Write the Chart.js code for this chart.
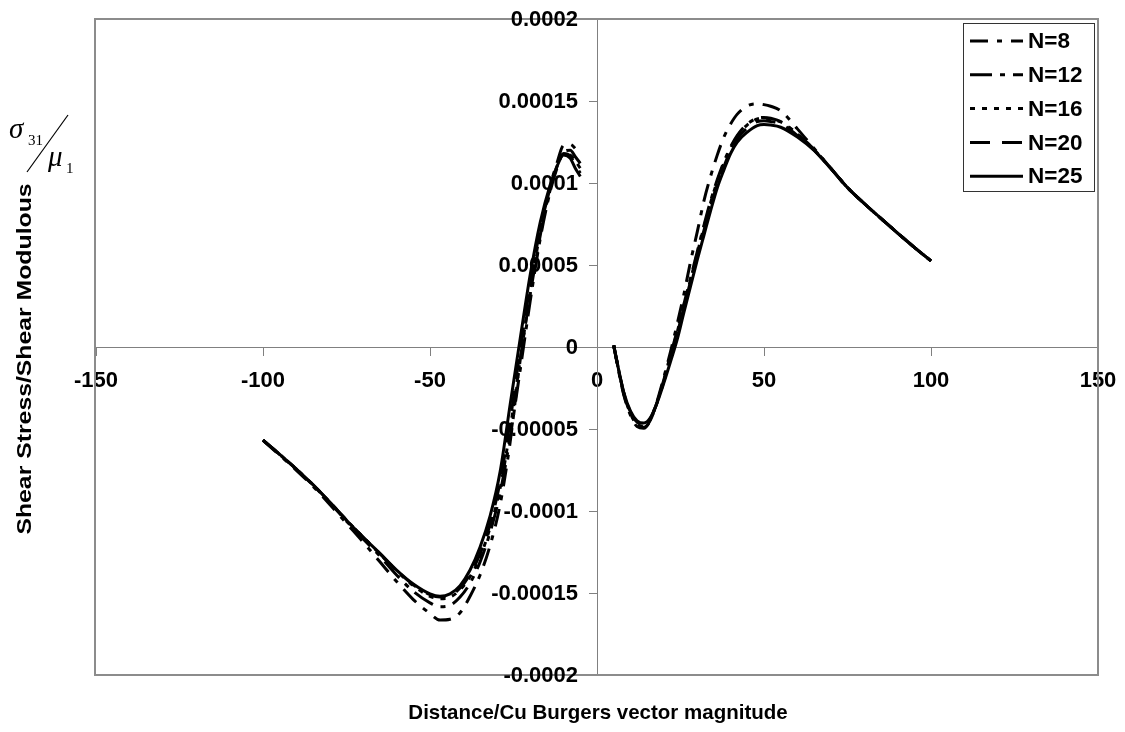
<!DOCTYPE html>
<html>
<head>
<meta charset="utf-8">
<script src="https://cdn.jsdelivr.net/npm/chart.js@4.4.1/dist/chart.umd.min.js"></script>
<style>
  html, body { margin: 0; padding: 0; background: #fff; }
  #wrap { width: 1125px; height: 732px; }
</style>
</head>
<body>
<div id="wrap"><canvas id="shearChart" width="1125" height="732"></canvas></div>
<script>
const seriesNames = ['N=8', 'N=12', 'N=16', 'N=20', 'N=25'];
const xTicks = [-150, -100, -50, 0, 50, 100, 150];
const yTicks = [-0.0002, -0.00015, -0.0001, -0.00005, 0, 0.00005, 0.0001, 0.00015, 0.0002];

// distance values, left and right of the dislocation
const xLeft = [-100, -95, -90, -85, -80, -75, -70, -65, -60, -55, -50, -47, -44, -41, -38, -35, -32, -29, -26, -23, -20, -17, -14, -12, -10, -8, -6.5, -5];
const xRight = [5, 6.5, 8, 10, 12, 14, 16, 18, 20, 22, 24, 26, 28, 30, 32, 34, 36, 38, 40, 42, 45, 48, 50, 52, 55, 60, 65, 70, 75, 80, 85, 90, 95, 100];

const n8Left = [-5.7e-5, -6.6e-5, -7.52e-5, -8.5e-5, -9.6e-5, -1.075e-4, -1.19e-4, -1.31e-4, -1.43e-4, -1.54e-4, -1.625e-4, -1.665e-4, -1.66e-4, -1.62e-4, -1.52e-4, -1.39e-4, -1.21e-4, -9.6e-5, -5.8e-5, -8e-6, 3.2e-5, 6.8e-5, 9.8e-5, 1.12e-4, 1.23e-4, 1.235e-4, 1.21e-4, 1.17e-4];
const n12Left = [-5.68e-5, -6.56e-5, -7.47e-5, -8.43e-5, -9.5e-5, -1.062e-4, -1.17e-4, -1.275e-4, -1.39e-4, -1.49e-4, -1.56e-4, -1.584e-4, -1.575e-4, -1.525e-4, -1.44e-4, -1.31e-4, -1.13e-4, -8.9e-5, -5.5e-5, -1.4e-5, 2.8e-5, 6.6e-5, 9.5e-5, 1.09e-4, 1.19e-4, 1.2e-4, 1.16e-4, 1.12e-4];
const n16Left = [-5.68e-5, -6.55e-5, -7.45e-5, -8.4e-5, -9.46e-5, -1.056e-4, -1.16e-4, -1.262e-4, -1.365e-4, -1.455e-4, -1.52e-4, -1.535e-4, -1.525e-4, -1.48e-4, -1.4e-4, -1.28e-4, -1.1e-4, -8.6e-5, -5e-5, -8e-6, 3.4e-5, 7e-5, 9.6e-5, 1.1e-4, 1.175e-4, 1.17e-4, 1.135e-4, 1.09e-4];
const n20Left = [-5.68e-5, -6.55e-5, -7.45e-5, -8.4e-5, -9.46e-5, -1.056e-4, -1.16e-4, -1.26e-4, -1.362e-4, -1.45e-4, -1.51e-4, -1.525e-4, -1.515e-4, -1.47e-4, -1.385e-4, -1.26e-4, -1.08e-4, -8.2e-5, -4.5e-5, -2e-6, 3.8e-5, 7.2e-5, 9.7e-5, 1.1e-4, 1.18e-4, 1.165e-4, 1.11e-4, 1.06e-4];
const n25Left = [-5.68e-5, -6.55e-5, -7.45e-5, -8.4e-5, -9.46e-5, -1.056e-4, -1.16e-4, -1.258e-4, -1.36e-4, -1.445e-4, -1.505e-4, -1.52e-4, -1.505e-4, -1.455e-4, -1.36e-4, -1.22e-4, -1.03e-4, -7.6e-5, -3.5e-5, 5e-6, 4.4e-5, 7.6e-5, 9.9e-5, 1.1e-4, 1.17e-4, 1.15e-4, 1.09e-4, 1.04e-4];

const n8Right = [1e-6, -1.5e-5, -2.9e-5, -4.15e-5, -4.85e-5, -4.95e-5, -4.45e-5, -3.3e-5, -1.85e-5, -3e-6, 1.4e-5, 3.2e-5, 5.2e-5, 7e-5, 8.9e-5, 1.04e-4, 1.17e-4, 1.28e-4, 1.36e-4, 1.42e-4, 1.47e-4, 1.482e-4, 1.478e-4, 1.468e-4, 1.44e-4, 1.33e-4, 1.21e-4, 1.09e-4, 9.72e-5, 8.75e-5, 7.84e-5, 6.95e-5, 6.08e-5, 5.25e-5];
const n12Right = [1e-6, -1.45e-5, -2.85e-5, -4.05e-5, -4.75e-5, -4.9e-5, -4.45e-5, -3.35e-5, -2e-5, -5e-6, 1e-5, 2.6e-5, 4.2e-5, 5.8e-5, 7.4e-5, 8.9e-5, 1.02e-4, 1.13e-4, 1.22e-4, 1.29e-4, 1.36e-4, 1.395e-4, 1.4e-4, 1.395e-4, 1.375e-4, 1.3e-4, 1.205e-4, 1.09e-4, 9.72e-5, 8.75e-5, 7.84e-5, 6.95e-5, 6.08e-5, 5.25e-5];
const n16Right = [1e-6, -1.42e-5, -2.8e-5, -4e-5, -4.7e-5, -4.82e-5, -4.4e-5, -3.35e-5, -2.05e-5, -5.5e-6, 9e-6, 2.5e-5, 4.1e-5, 5.7e-5, 7.3e-5, 8.8e-5, 1.01e-4, 1.12e-4, 1.21e-4, 1.285e-4, 1.355e-4, 1.39e-4, 1.395e-4, 1.39e-4, 1.372e-4, 1.297e-4, 1.203e-4, 1.089e-4, 9.72e-5, 8.75e-5, 7.84e-5, 6.95e-5, 6.08e-5, 5.25e-5];
const n20Right = [1e-6, -1.4e-5, -2.78e-5, -3.95e-5, -4.58e-5, -4.72e-5, -4.35e-5, -3.4e-5, -2.1e-5, -6e-6, 8e-6, 2.4e-5, 4e-5, 5.6e-5, 7.1e-5, 8.6e-5, 9.9e-5, 1.1e-4, 1.2e-4, 1.27e-4, 1.335e-4, 1.375e-4, 1.38e-4, 1.375e-4, 1.36e-4, 1.29e-4, 1.2e-4, 1.088e-4, 9.72e-5, 8.75e-5, 7.84e-5, 6.95e-5, 6.08e-5, 5.25e-5];
const n25Right = [1e-6, -1.4e-5, -2.75e-5, -3.9e-5, -4.5e-5, -4.64e-5, -4.3e-5, -3.4e-5, -2.2e-5, -9e-6, 4.5e-6, 2.1e-5, 3.7e-5, 5.3e-5, 6.8e-5, 8.3e-5, 9.7e-5, 1.08e-4, 1.18e-4, 1.25e-4, 1.31e-4, 1.35e-4, 1.356e-4, 1.353e-4, 1.34e-4, 1.28e-4, 1.198e-4, 1.088e-4, 9.72e-5, 8.75e-5, 7.84e-5, 6.95e-5, 6.08e-5, 5.25e-5];

const leftValues = [n8Left, n12Left, n16Left, n20Left, n25Left];
const rightValues = [n8Right, n12Right, n16Right, n20Right, n25Right];
const dashes = [[18, 9, 5, 9], [22, 8, 5, 8], [5, 7], [20, 12], []];

const fontFamily = "'Liberation Sans', Arial, sans-serif";

function buildPoints(left, right) {
    const pts = xLeft.map((x, i) => ({x: x, y: left[i]}));
    pts.push({x: 0, y: null});
    return pts.concat(xRight.map((x, i) => ({x: x, y: right[i]})));
}

function yLabel(v) {
    return String(Number(v.toFixed(5)));
}

// centred axes should not eat into the plot area
function noPadding(scale) {
    scale.paddingLeft = 0;
    scale.paddingRight = 0;
    scale.paddingTop = 0;
    scale.paddingBottom = 0;
}

const datasets = seriesNames.map((name, i) => ({
    label: name,
    data: buildPoints(leftValues[i], rightValues[i]),
    borderColor: '#000',
    borderWidth: 3,
    borderDash: dashes[i],
    pointRadius: 0,
    fill: false,
    spanGaps: false,
    cubicInterpolationMode: 'monotone'
}));

const decorPlugin = {
    id: 'decor',
    beforeDatasetsDraw(chart) {
        const {ctx, chartArea} = chart;
        ctx.save();
        ctx.strokeStyle = '#8c8c8c';
        ctx.lineWidth = 2;
        ctx.strokeRect(chartArea.left - 1, chartArea.top, chartArea.right - chartArea.left + 1, chartArea.bottom - chartArea.top);

        // y tick labels sit left of the centred axis
        const yScale = chart.scales.y;
        const xZero = chart.scales.x.getPixelForValue(0);
        ctx.fillStyle = '#000';
        ctx.font = `bold 22px ${fontFamily}`;
        ctx.textAlign = 'right';
        ctx.textBaseline = 'middle';
        yTicks.forEach(v => {
            ctx.fillText(yLabel(v), xZero - 19, yScale.getPixelForValue(v) + 1);
        });
        ctx.restore();
    },
    afterDraw(chart) {
        const {ctx} = chart;
        ctx.save();
        ctx.fillStyle = '#000';

        // axis titles
        ctx.font = `bold 20.5px ${fontFamily}`;
        ctx.textAlign = 'center';
        ctx.textBaseline = 'middle';
        ctx.fillText('Distance/Cu Burgers vector magnitude', 598, 713);
        ctx.save();
        ctx.translate(25, 359);
        ctx.rotate(-Math.PI / 2);
        ctx.scale(1.18, 1);
        ctx.font = `bold 21px ${fontFamily}`;
        ctx.fillText('Shear Stress/Shear Modulous', 0, 0);
        ctx.restore();

        // sigma31 / mu1
        ctx.textAlign = 'left';
        ctx.textBaseline = 'alphabetic';
        ctx.font = "italic 29px 'Liberation Serif', serif";
        ctx.fillText('σ', 9, 138);
        ctx.fillText('μ', 48, 166);
        ctx.font = "15px 'Liberation Serif', serif";
        ctx.fillText('31', 28, 145);
        ctx.fillText('1', 66, 173);
        ctx.strokeStyle = '#000';
        ctx.lineWidth = 1.2;
        ctx.beginPath();
        ctx.moveTo(27, 172);
        ctx.lineTo(68, 115);
        ctx.stroke();

        // legend
        const box = {x: 963, y: 23, w: 131, h: 168};
        ctx.fillStyle = '#fff';
        ctx.fillRect(box.x, box.y, box.w, box.h);
        ctx.strokeStyle = '#333';
        ctx.lineWidth = 1;
        ctx.strokeRect(box.x + 0.5, box.y + 0.5, box.w, box.h);
        ctx.font = `bold 22.5px ${fontFamily}`;
        ctx.textBaseline = 'middle';
        chart.data.datasets.forEach((ds, i) => {
            const y = 41 + i * 33.8;
            ctx.strokeStyle = '#000';
            ctx.lineWidth = 3;
            ctx.setLineDash(ds.borderDash);
            ctx.beginPath();
            ctx.moveTo(970, y);
            ctx.lineTo(1023, y);
            ctx.stroke();
            ctx.setLineDash([]);
            ctx.fillStyle = '#000';
            ctx.fillText(ds.label, 1028, y + 1);
        });
        ctx.restore();
    }
};

const axisFont = {family: fontFamily, size: 22, weight: 'bold'};

new Chart(document.getElementById('shearChart'), {
    type: 'line',
    data: {datasets: datasets},
    options: {
        responsive: false,
        animation: false,
        devicePixelRatio: 1,
        layout: {padding: {left: 96, top: 19, right: 27, bottom: 57}},
        plugins: {legend: {display: false}, tooltip: {enabled: false}},
        scales: {
            x: {
                type: 'linear',
                min: -150,
                max: 150,
                position: {y: 0},
                afterBuildTicks: (scale) => { scale.ticks = xTicks.map(v => ({value: v})); },
                afterFit: noPadding,
                ticks: {color: '#000', font: axisFont, padding: 13, maxRotation: 0},
                grid: {display: true, drawOnChartArea: false, drawTicks: true, tickLength: 8, color: '#808080'},
                border: {display: true, color: '#808080', width: 1}
            },
            y: {
                type: 'linear',
                min: -0.0002,
                max: 0.0002,
                position: {x: 0},
                afterBuildTicks: (scale) => { scale.ticks = yTicks.map(v => ({value: v})); },
                afterFit: noPadding,
                ticks: {display: false},
                grid: {display: true, drawOnChartArea: false, drawTicks: true, tickLength: 8, color: '#808080'},
                border: {display: true, color: '#808080', width: 1}
            }
        }
    },
    plugins: [decorPlugin]
});
</script>
</body>
</html>
